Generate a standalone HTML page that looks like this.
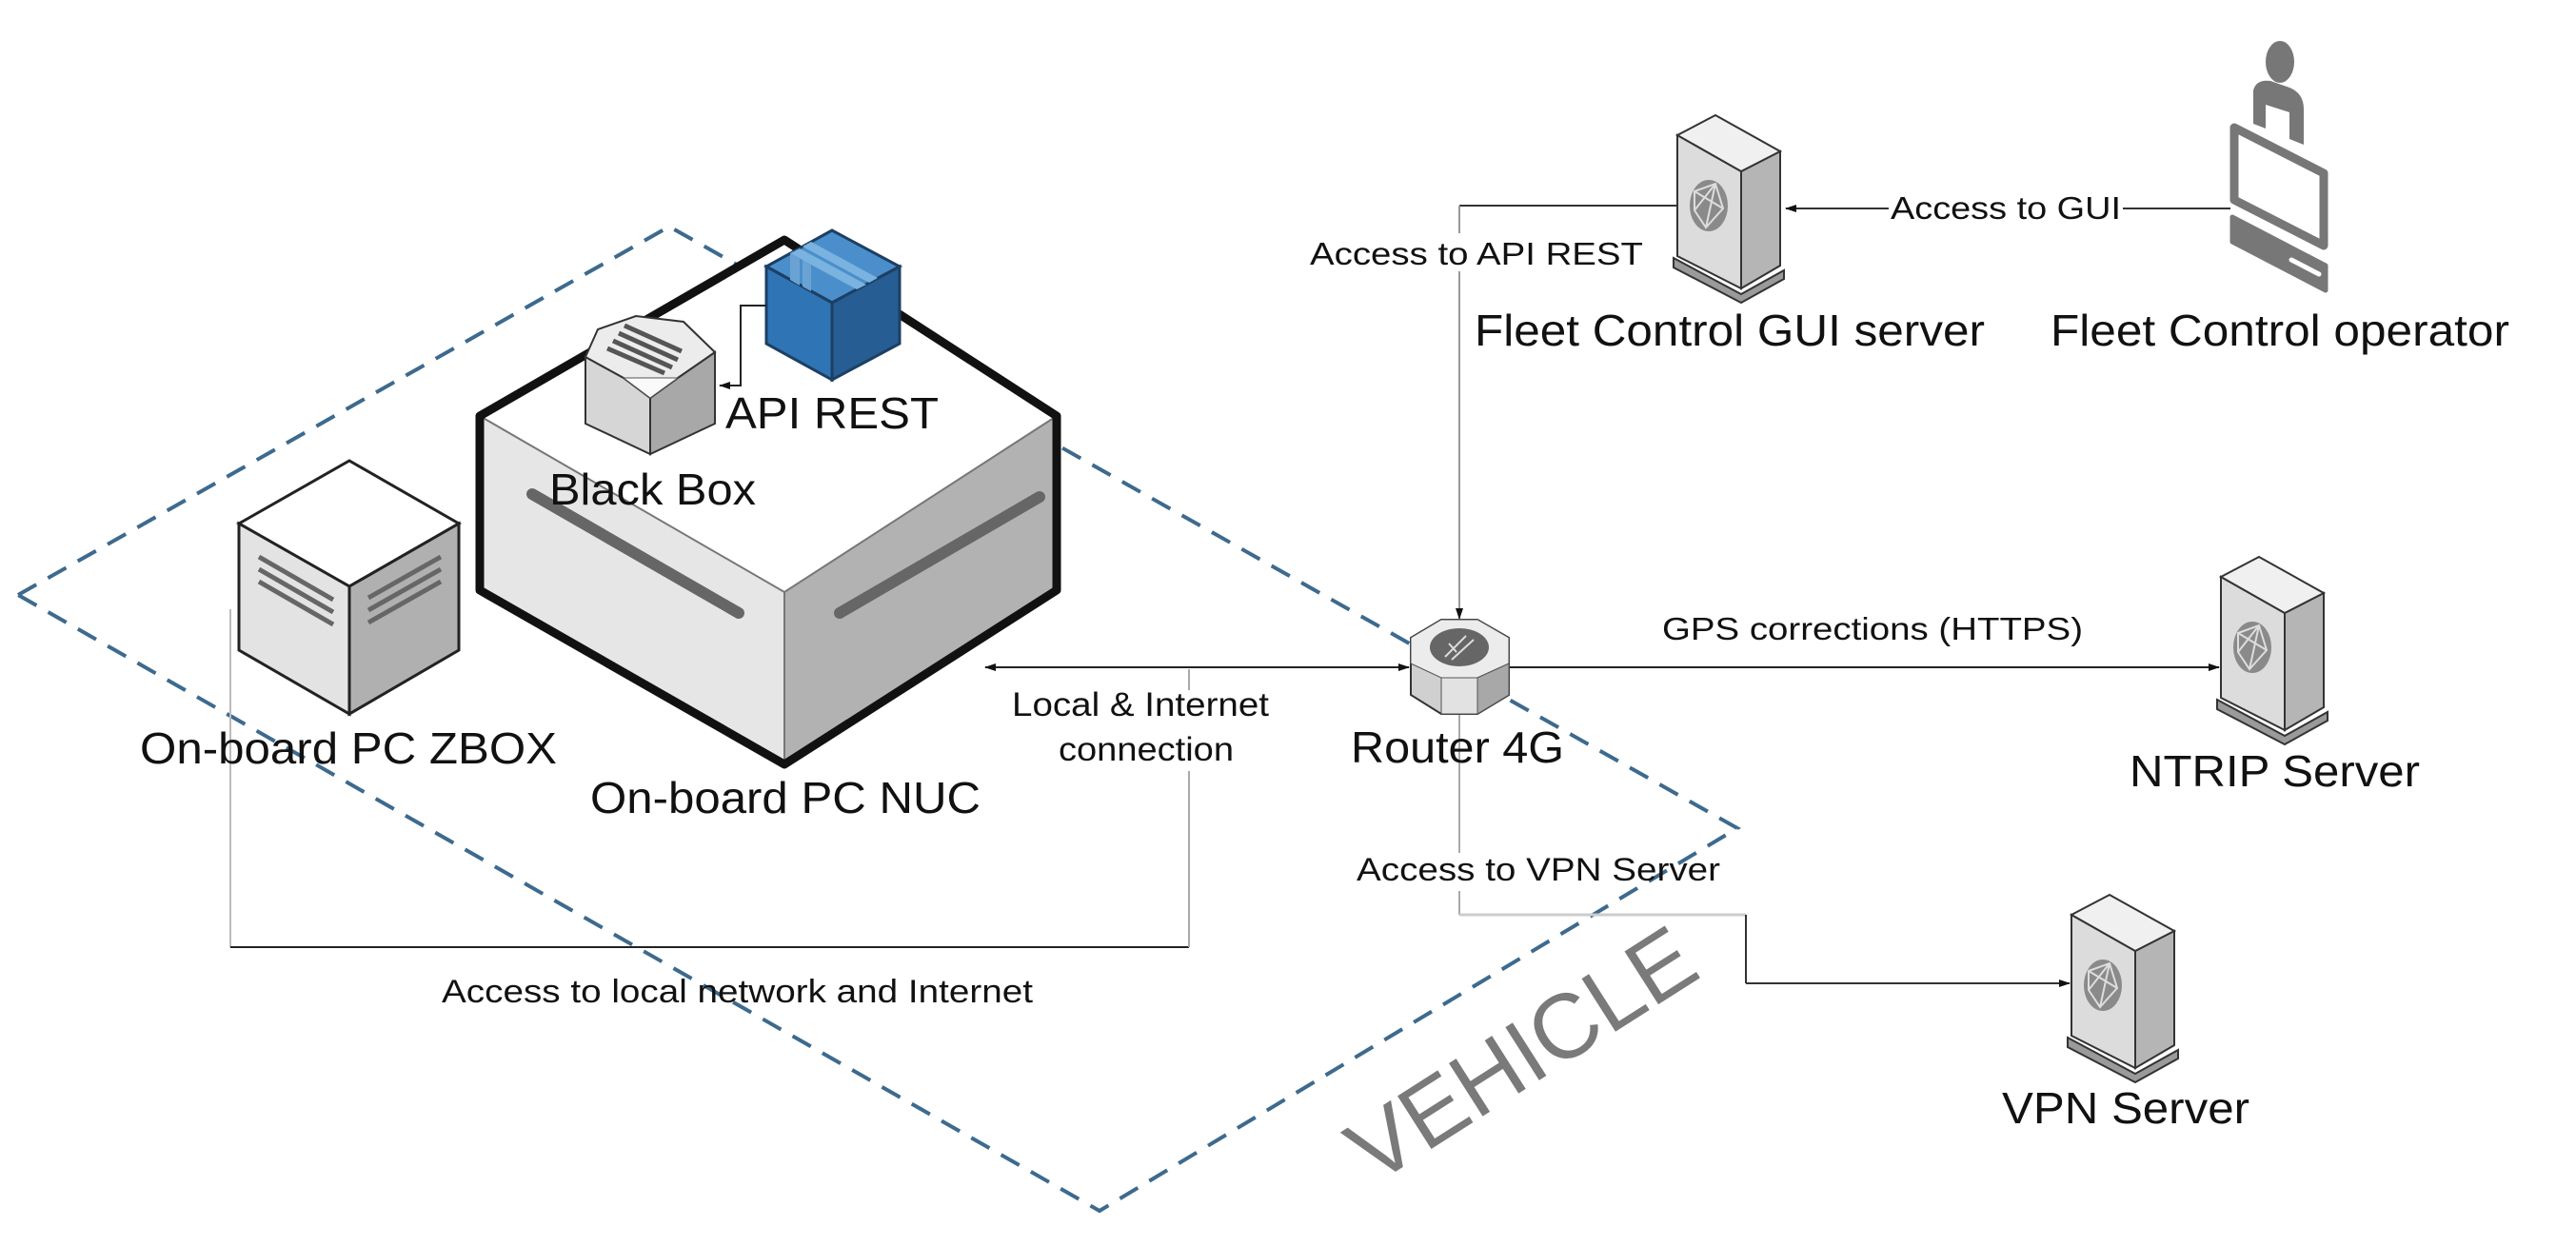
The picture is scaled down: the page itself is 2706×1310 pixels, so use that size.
<!DOCTYPE html>
<html><head><meta charset="utf-8"><style>
html,body{margin:0;padding:0;background:#fff;}
svg{display:block;}
text{font-family:"Liberation Sans",Arial,sans-serif;fill:#111;}
</style></head><body>
<svg width="2706" height="1310" viewBox="0 0 2706 1310" xmlns="http://www.w3.org/2000/svg">
<defs>
<marker id="ah" markerWidth="12" markerHeight="10" refX="11" refY="5" orient="auto" markerUnits="userSpaceOnUse">
<path d="M0,1 L12,5 L0,9 z" fill="#111"/></marker>
<g id="srv">
  <polygon points="-4,150 67,188 112,163 112,172 67,197 -4,160" fill="#9a9a9a" stroke="#333" stroke-width="2"/>
  <polygon points="0,21 67,59 67,182 0,148" fill="#dcdcdc" stroke="#333" stroke-width="2"/>
  <polygon points="67,59 108,38 108,158 67,182" fill="#b5b5b5" stroke="#333" stroke-width="2"/>
  <polygon points="0,21 40,0 108,38 67,59" fill="#f0f0f0" stroke="#333" stroke-width="2"/>
  <ellipse cx="33" cy="95" rx="20" ry="27" fill="#8a8a8a"/>
  <path d="M18,80 L40,72 L48,98 L30,118 L18,100 Z M18,80 L48,98 M40,72 L30,118 M18,100 L40,72" stroke="#ddd" stroke-width="2" fill="none"/>
</g>
</defs>

<!-- Vehicle dashed boundary -->
<polygon points="19,625 703,238 1825,870 1155,1272" fill="none" stroke="#3d6a8e" stroke-width="4" stroke-dasharray="22,14"/>
<text x="1600" y="1140" font-size="96" fill="#7a7a7a" style="fill:#7a7a7a" text-anchor="middle" transform="rotate(-32.5 1600 1110)">VEHICLE</text>

<!-- connectors -->
<polyline points="242,640 242,995" fill="none" stroke="#bbb" stroke-width="2"/>
<line x1="242" y1="995" x2="1249" y2="995" stroke="#222" stroke-width="2"/>
<line x1="1249" y1="703" x2="1249" y2="725" stroke="#aaa" stroke-width="2"/>
<line x1="1249" y1="810" x2="1249" y2="995" stroke="#aaa" stroke-width="2"/>
<line x1="1480" y1="701" x2="1035" y2="701" stroke="#222" stroke-width="2" marker-end="url(#ah)"/>
<line x1="1250" y1="701" x2="1480" y2="701" stroke="#222" stroke-width="2" marker-end="url(#ah)"/>
<line x1="1586" y1="701" x2="2331" y2="701" stroke="#222" stroke-width="2" marker-end="url(#ah)"/>
<line x1="1762" y1="216" x2="1533" y2="216" stroke="#333" stroke-width="2"/>
<line x1="1533" y1="216" x2="1533" y2="245" stroke="#999" stroke-width="2"/>
<line x1="1533" y1="285" x2="1533" y2="650" stroke="#999" stroke-width="2" marker-end="url(#ah)"/>
<line x1="2343" y1="219" x2="2230" y2="219" stroke="#333" stroke-width="2"/>
<line x1="1984" y1="219" x2="1876" y2="219" stroke="#333" stroke-width="2" marker-end="url(#ah)"/>
<line x1="1533" y1="750" x2="1533" y2="896" stroke="#aaa" stroke-width="2"/>
<line x1="1533" y1="936" x2="1533" y2="961" stroke="#aaa" stroke-width="2"/>
<line x1="1533" y1="961" x2="1834" y2="961" stroke="#ccc" stroke-width="3"/>
<line x1="1834" y1="961" x2="1834" y2="1033" stroke="#333" stroke-width="2"/>
<line x1="1834" y1="1033" x2="2174" y2="1033" stroke="#333" stroke-width="2" marker-end="url(#ah)"/>

<!-- NUC -->
<polygon points="504,437 824,252 1110,437 824,622" fill="#fff"/>
<polygon points="504,437 824,622 824,803 504,620" fill="#e6e6e6"/>
<polygon points="824,622 1110,437 1110,620 824,803" fill="#b2b2b2"/>
<polyline points="504,437 824,622 1110,437" fill="none" stroke="#777" stroke-width="2"/>
<line x1="824" y1="622" x2="824" y2="803" stroke="#777" stroke-width="2"/>
<polygon points="504,437 824,252 1110,437 1110,620 824,803 504,620" fill="none" stroke="#111" stroke-width="9" stroke-linejoin="round"/>
<line x1="559" y1="519" x2="776" y2="644" stroke="#666" stroke-width="12" stroke-linecap="round"/>
<line x1="882" y1="644" x2="1092" y2="522" stroke="#666" stroke-width="12" stroke-linecap="round"/>

<!-- Blue cube -->
<polygon points="874,242 945,280 874,318 805,280" fill="#4a8fcb" stroke="#1d3f63" stroke-width="3"/>
<polygon points="805,280 874,318 874,399 805,361" fill="#2f74b5" stroke="#1d3f63" stroke-width="3"/>
<polygon points="874,318 945,280 945,361 874,399" fill="#265d92" stroke="#1d3f63" stroke-width="3"/>
<polygon points="830,266 900,304 910,299 840,261" fill="#7ab3e0"/>
<polygon points="843,259 913,297 922,292 852,254" fill="#7ab3e0"/>
<polygon points="830,266 840,272 840,300 830,294" fill="#6aa3d3"/>
<polygon points="843,273 852,278 852,306 843,301" fill="#6aa3d3"/>

<!-- Black box -->
<polygon points="615,445 615,375 655,397 683,418 683,477" fill="#d6d6d6" stroke="#333" stroke-width="2"/>
<polygon points="683,418 712,397 751,370 751,445 683,477" fill="#a8a8a8" stroke="#333" stroke-width="2"/>
<polygon points="615,375 628,346 668,332 718,338 751,370 712,397 683,418 655,397" fill="#ececec" stroke="#333" stroke-width="2"/>
<polygon points="655,397 683,418 712,397" fill="#fafafa" stroke="#555" stroke-width="1"/>
<g stroke="#555" stroke-width="5">
<line x1="650" y1="350" x2="712" y2="378"/><line x1="644" y1="358" x2="706" y2="386"/>
<line x1="656" y1="342" x2="716" y2="369"/><line x1="638" y1="366" x2="698" y2="392"/>
</g>
<polyline points="805,321 778,321 778,405 756,405" fill="none" stroke="#222" stroke-width="2" marker-end="url(#ah)"/>

<!-- ZBOX -->
<polygon points="367,484 482,550 367,616 251,550" fill="#fff" stroke="#222" stroke-width="3"/>
<polygon points="251,550 367,616 367,750 251,683" fill="#e3e3e3" stroke="#222" stroke-width="3"/>
<polygon points="367,616 482,550 482,683 367,750" fill="#b0b0b0" stroke="#222" stroke-width="3"/>
<g stroke="#666" stroke-width="5">
<line x1="272" y1="585" x2="350" y2="630"/><line x1="272" y1="598" x2="350" y2="643"/><line x1="272" y1="611" x2="350" y2="656"/>
<line x1="387" y1="628" x2="463" y2="585"/><line x1="387" y1="641" x2="463" y2="598"/><line x1="387" y1="654" x2="463" y2="611"/>
</g>

<!-- Router -->
<polygon points="1482,670 1514,651 1552,651 1585,670 1585,730 1552,750 1514,750 1482,730" fill="#d0d0d0" stroke="#333" stroke-width="2"/>
<polygon points="1482,670 1514,651 1552,651 1585,670 1585,697 1552,712 1514,712 1482,697" fill="#ececec" stroke="#555" stroke-width="1"/>
<polygon points="1514,712 1552,712 1552,750 1514,750" fill="#e2e2e2" stroke="#555" stroke-width="1"/>
<polygon points="1552,712 1585,697 1585,730 1552,750" fill="#a8a8a8" stroke="#555" stroke-width="1"/>
<ellipse cx="1533" cy="680" rx="31" ry="20" fill="#666"/>
<path d="M1518,690 L1540,668 M1525,693 L1548,672 M1530,685 L1522,676" stroke="#ddd" stroke-width="2"/>

<!-- Servers -->
<use href="#srv" transform="translate(1762,121)"/>
<use href="#srv" transform="translate(2333,585)"/>
<use href="#srv" transform="translate(2176,940)"/>

<!-- Operator -->
<g fill="#777">
<ellipse cx="2395" cy="65" rx="15" ry="22"/>
<path d="M2367,95 Q2370,83 2385,85 L2405,92 Q2420,98 2420,115 L2420,152 L2405,146 L2405,118 L2380,110 L2380,135 L2367,130 Z"/>
</g>
<polygon points="2347,134 2441,182 2441,258 2347,210" fill="#fff" stroke="#777" stroke-width="9" stroke-linejoin="round"/>
<polygon points="2345,228 2443,279 2443,305 2345,254" fill="#777" stroke="#777" stroke-width="5" stroke-linejoin="round"/>
<line x1="2407" y1="273" x2="2436" y2="288" stroke="#fff" stroke-width="5" stroke-linecap="round"/>

<!-- Labels -->
<text x="1549" y="363" font-size="46" textLength="536" lengthAdjust="spacingAndGlyphs">Fleet Control GUI server</text>
<text x="2154" y="363" font-size="46" textLength="482" lengthAdjust="spacingAndGlyphs">Fleet Control operator</text>
<rect x="1984" y="195" width="246" height="40" fill="#fff"/>
<text x="1986" y="230" font-size="33" textLength="242" lengthAdjust="spacingAndGlyphs">Access to GUI</text>
<text x="1376" y="278" font-size="33" textLength="350" lengthAdjust="spacingAndGlyphs">Access to API REST</text>
<text x="1746" y="672" font-size="33" textLength="442" lengthAdjust="spacingAndGlyphs">GPS corrections (HTTPS)</text>
<text x="2237" y="826" font-size="46" textLength="305" lengthAdjust="spacingAndGlyphs">NTRIP Server</text>
<text x="2103" y="1180" font-size="46" textLength="260" lengthAdjust="spacingAndGlyphs">VPN Server</text>
<text x="1425" y="925" font-size="34" textLength="382" lengthAdjust="spacingAndGlyphs">Access to VPN Server</text>
<text x="1419" y="801" font-size="46" textLength="224" lengthAdjust="spacingAndGlyphs">Router 4G</text>
<text x="1063" y="752" font-size="35" textLength="270" lengthAdjust="spacingAndGlyphs">Local &amp; Internet</text>
<text x="1112" y="799" font-size="35" textLength="184" lengthAdjust="spacingAndGlyphs">connection</text>
<text x="464" y="1053" font-size="34" textLength="621" lengthAdjust="spacingAndGlyphs">Access to local network and Internet</text>
<text x="147" y="802" font-size="46" textLength="438" lengthAdjust="spacingAndGlyphs">On-board PC ZBOX</text>
<text x="620" y="854" font-size="46" textLength="410" lengthAdjust="spacingAndGlyphs">On-board PC NUC</text>
<text x="577" y="530" font-size="46" textLength="217" lengthAdjust="spacingAndGlyphs">Black Box</text>
<text x="762" y="450" font-size="46" textLength="224" lengthAdjust="spacingAndGlyphs">API REST</text>
</svg>
</body></html>
